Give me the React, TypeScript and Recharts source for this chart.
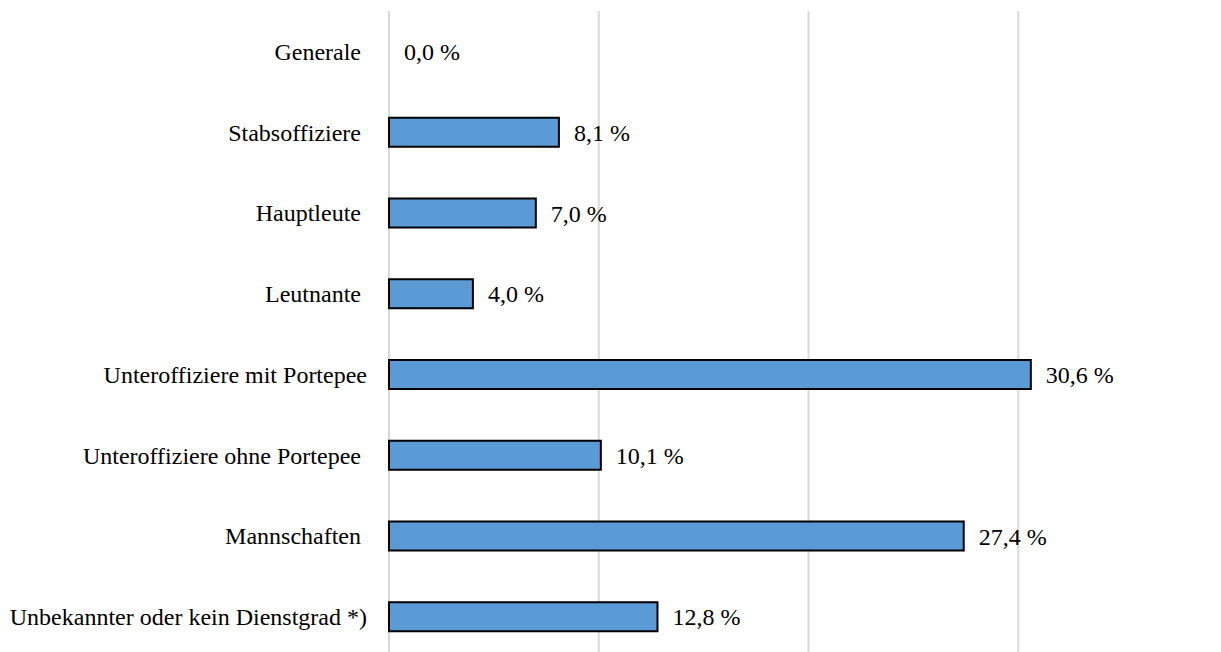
import { BarChart, Bar, XAxis, YAxis, CartesianGrid, Rectangle } from "recharts";

// trailing NBSP mirrors the trailing blanks in the original labels
const categories = [
  "Generale\u00a0",
  "Stabsoffiziere\u00a0",
  "Hauptleute\u00a0",
  "Leutnante\u00a0",
  "Unteroffiziere mit Portepee",
  "Unteroffiziere ohne Portepee\u00a0",
  "Mannschaften\u00a0",
  "Unbekannter oder kein Dienstgrad *)",
];

const shares = [0.0, 8.1, 7.0, 4.0, 30.6, 10.1, 27.4, 12.8];

const xTicks = [0, 10, 20, 30];

const font = "Times New Roman, Liberation Serif, serif";
const fontSize = 24;

const fmt = (v: number) => `${v.toFixed(1).replace(".", ",")} %`;

const ValueLabel = (props: any) => {
  const { x, y, width, height, value } = props;
  return (
    <text
      x={Number(x) + Number(width || 0) + 15}
      y={Number(y) + Number(height) / 2}
      dy="0.355em"
      fill="#000"
      fontFamily={font}
      fontSize={fontSize}
    >
      {fmt(Number(value))}
    </text>
  );
};

// zero bars get a hair of width (minPointSize) so their label is kept, but no outline
const BarShape = (props: any) =>
  props.payload && props.payload.value > 0 ? <Rectangle {...props} /> : <g />;

export default function App() {
  const data = categories.map((name, i) => ({ name, value: shares[i] }));

  return (
    <div
      style={{
        position: "absolute",
        top: 0,
        left: 0,
        width: 1221,
        height: 652,
        overflow: "hidden",
        background: "#fff",
        fontFamily: font,
      }}
    >
      <BarChart
        width={1240}
        height={660}
        data={data}
        layout="vertical"
        margin={{ top: 11, right: 12, bottom: 3, left: 0 }}
      >
        <CartesianGrid horizontal={false} stroke="#d9d9d9" strokeWidth={2} />
        <XAxis type="number" domain={[0, 40]} ticks={xTicks} hide />
        <YAxis
          type="category"
          dataKey="name"
          width={389}
          axisLine={false}
          tickLine={false}
          tickMargin={16}
          interval={0}
          tick={{ fill: "#000", fontFamily: font, fontSize }}
        />
        <Bar
          dataKey="value"
          fill="#5b9bd5"
          stroke="#000"
          strokeWidth={2}
          barSize={29}
          minPointSize={0.01}
          shape={BarShape}
          isAnimationActive={false}
          label={ValueLabel}
        />
      </BarChart>
    </div>
  );
}
